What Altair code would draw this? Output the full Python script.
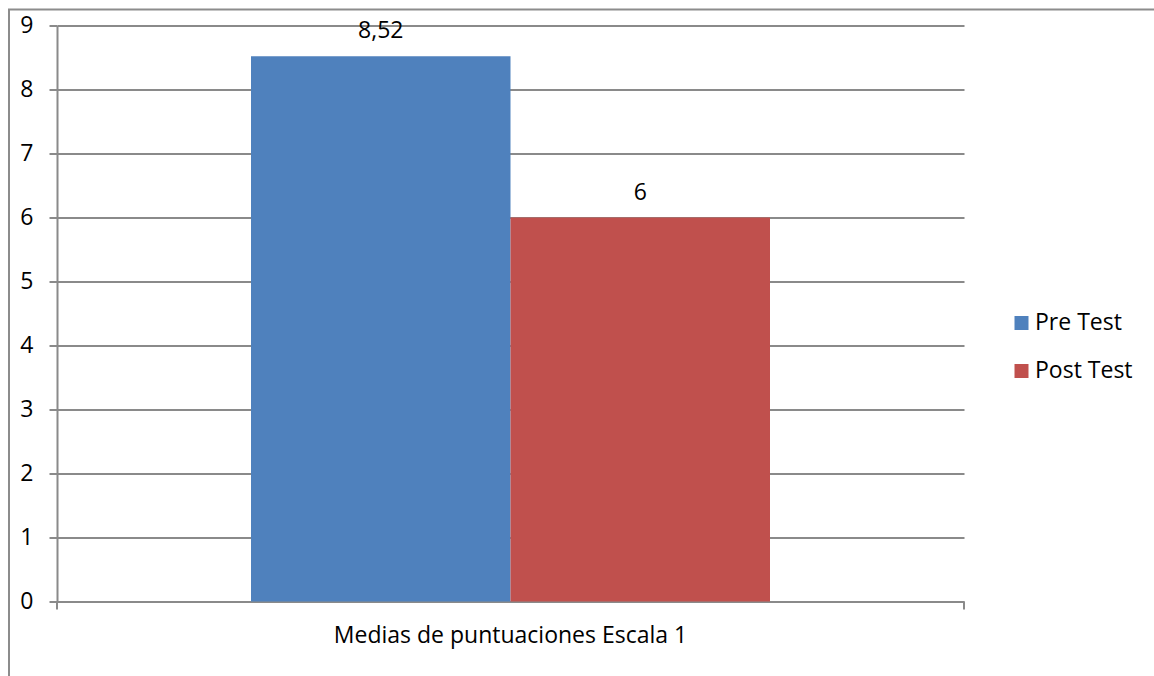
import altair as alt
import pandas as pd

# Mean scores on scale 1, before and after the intervention
category = ["Medias de puntuaciones Escala 1"]
series = ["Pre Test", "Post Test"]
values = [8.52, 6.0]
labels = ["8,52", "6"]
colors = ["#4F81BD", "#C0504D"]

df = pd.DataFrame({
    "categoria": category * len(series),
    "serie": series,
    "valor": values,
    "etiqueta": labels,
})

FONT = "Open Sans"
FS = 23
GRID = "#8A8A8A"
W, H = 907, 576

base = alt.Chart(df)

bars = base.mark_bar(size=259.5).encode(
    x=alt.X(
        "categoria:N",
        title=None,
        scale=alt.Scale(paddingInner=0, paddingOuter=0),
        axis=alt.Axis(
            labelAngle=0,
            ticks=False,
            domain=False,
            grid=False,
            labelFont=FONT,
            labelFontSize=FS,
            labelColor="#000000",
            labelBaseline="middle",
            labelPadding=34,
            labelLimit=0,
        ),
    ),
    xOffset=alt.XOffset(
        "serie:N",
        sort=series,
        scale=alt.Scale(paddingInner=0, paddingOuter=0.7476),
    ),
    y=alt.Y(
        "valor:Q",
        title=None,
        scale=alt.Scale(domain=[0, 9], nice=False),
        axis=alt.Axis(
            values=list(range(10)),
            format="d",
            grid=True,
            gridColor=GRID,
            gridWidth=2,
            domain=True,
            domainColor=GRID,
            domainWidth=2,
            ticks=True,
            tickColor=GRID,
            tickWidth=2,
            tickSize=8,
            labelFont=FONT,
            labelFontSize=FS,
            labelColor="#000000",
            labelPadding=16,
        ),
    ),
    color=alt.Color(
        "serie:N",
        sort=series,
        scale=alt.Scale(domain=series, range=colors),
        legend=alt.Legend(
            title=None,
            orient="none",
            legendX=953,
            legendY=286,
            symbolType="square",
            symbolSize=196,
            symbolStrokeWidth=0,
            labelFont=FONT,
            labelFontSize=FS,
            labelColor="#000000",
            labelOffset=2,
            rowPadding=24,
        ),
    ),
)

text = base.mark_text(
    font=FONT, fontSize=FS, color="#000000", baseline="middle", dy=-25
).encode(
    x=alt.X("categoria:N"),
    xOffset=alt.XOffset("serie:N", sort=series),
    y=alt.Y("valor:Q"),
    text="etiqueta:N",
)

# decorations: end ticks of the category axis and the outer chart frame
one = pd.DataFrame({"k": [0]})
deco = alt.Chart(one)
tick_left = deco.mark_rule(color=GRID, strokeWidth=2).encode(
    x=alt.value(0), y=alt.value(H), y2=alt.value(H + 8)
)
tick_right = deco.mark_rule(color=GRID, strokeWidth=2).encode(
    x=alt.value(W), y=alt.value(H), y2=alt.value(H + 8)
)
frame_left = deco.mark_rule(color="#8C8C8C", strokeWidth=2).encode(
    x=alt.value(-48), y=alt.value(-16), y2=alt.value(H + 110)
)
frame_top = deco.mark_rule(color="#8C8C8C", strokeWidth=2).encode(
    x=alt.value(-49), x2=alt.value(W + 200), y=alt.value(-16)
)

chart = alt.layer(bars, text, tick_left, tick_right, frame_left, frame_top).properties(
    width=W,
    height=H,
    background="#FFFFFF",
    autosize=alt.AutoSizeParams(type="none"),
    padding={"left": 57, "top": 25.5, "right": 190, "bottom": 74.5},
).configure_view(stroke="transparent", strokeWidth=0).configure_axisX(grid=False)

chart.save("out.html", embed_options={"renderer": "svg", "actions": False})
